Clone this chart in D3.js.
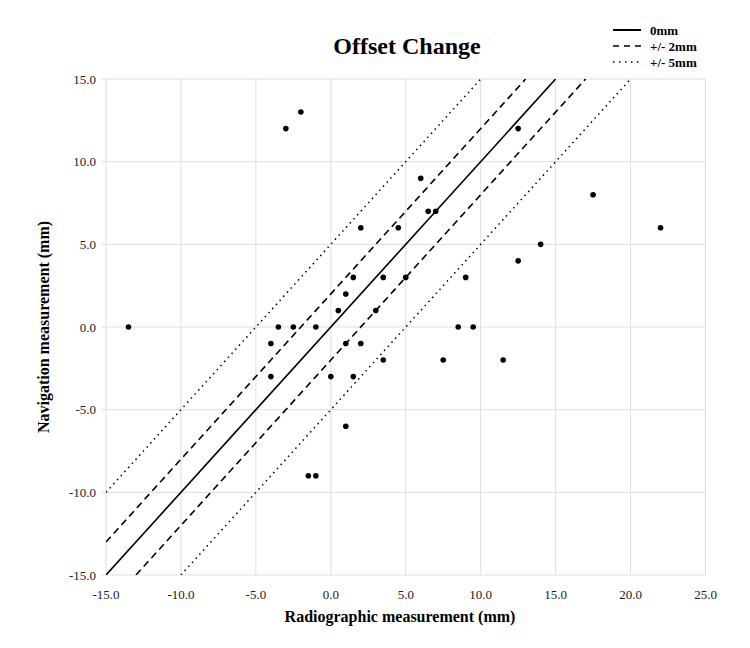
<!DOCTYPE html>
<html>
<head>
<meta charset="utf-8">
<script src="https://cdn.jsdelivr.net/npm/d3@7"></script>
<style>
  html, body { margin: 0; padding: 0; background: #fff; }
  svg { display: block; font-family: "Liberation Serif", "Times New Roman", serif; }
</style>
</head>
<body>
<svg id="chart" width="750" height="648"></svg>
<script>
// ---- data ----
const radiographic = [-3, -2, -13.5, 2, 4.5, 1.5, 3.5, 5, 1, 0.5, 3, -3.5, -2.5, -1,
  12.5, 6, 6.5, 7, 17.5, 22, 14, 12.5, 9, 8.5, 9.5, -4, 1, 2, 3.5, -4, 0, 1.5, 1,
  -1.5, -1, 7.5, 11.5];
const navigation = [12, 13, 0, 6, 6, 3, 3, 3, 2, 1, 1, 0, 0, 0,
  12, 9, 7, 7, 8, 6, 5, 4, 3, 0, 0, -1, -1, -1, -2, -3, -3, -3, -6,
  -9, -9, -2, -2];
const xTicks = [-15, -10, -5, 0, 5, 10, 15, 20, 25];
const yTicks = [-15, -10, -5, 0, 5, 10, 15];
const refLines = [
  { name: "0mm", offset: 0, style: "solid" },
  { name: "+/- 2mm", offset: 2, style: "dashed" },
  { name: "+/- 2mm", offset: -2, style: "dashed" },
  { name: "+/- 5mm", offset: 5, style: "dotted" },
  { name: "+/- 5mm", offset: -5, style: "dotted" }
];
const legendItems = [
  { name: "0mm", style: "solid" },
  { name: "+/- 2mm", style: "dashed" },
  { name: "+/- 5mm", style: "dotted" }
];
const title = "Offset Change";
const xTitle = "Radiographic measurement (mm)";
const yTitle = "Navigation measurement (mm)";

// ---- layout ----
const svg = d3.select("#chart");
const plot = { left: 106, right: 705.5, top: 79, bottom: 575 };
const x = d3.scaleLinear().domain([-15, 25]).range([plot.left, plot.right]);
const y = d3.scaleLinear().domain([-15, 15]).range([plot.bottom, plot.top]);
const dashes = { solid: null, dashed: "7,4.5", dotted: "1.5,4" };
const widths = { solid: 1.6, dashed: 1.6, dotted: 1.5 };

// gridlines
svg.append("g").selectAll("line.vx").data(xTicks).join("line")
  .attr("x1", d => x(d)).attr("x2", d => x(d))
  .attr("y1", plot.top).attr("y2", plot.bottom)
  .attr("stroke", "#dedede").attr("stroke-width", 1);
svg.append("g").selectAll("line.hy").data(yTicks).join("line")
  .attr("x1", plot.left - 5).attr("x2", plot.right)
  .attr("y1", d => y(d)).attr("y2", d => y(d))
  .attr("stroke", "#dedede").attr("stroke-width", 1);

// tick labels
svg.append("g").selectAll("text").data(xTicks).join("text")
  .attr("x", d => x(d)).attr("y", 599)
  .attr("text-anchor", "middle").attr("font-size", 13).attr("fill", "#222")
  .text(d => d.toFixed(1));
svg.append("g").selectAll("text").data(yTicks).join("text")
  .attr("x", 96).attr("y", d => y(d) + 4.5)
  .attr("text-anchor", "end").attr("font-size", 13).attr("fill", "#222")
  .text(d => d.toFixed(1));

// reference lines y = x + offset, clipped to plot domain
svg.append("defs").append("clipPath").attr("id", "clip")
  .append("rect").attr("x", plot.left).attr("y", plot.top)
  .attr("width", plot.right - plot.left).attr("height", plot.bottom - plot.top);
const lineG = svg.append("g").attr("clip-path", "url(#clip)");
refLines.forEach(r => {
  const x0 = Math.max(-15, -15 - r.offset);
  const x1 = Math.min(25, 15 - r.offset);
  lineG.append("line")
    .attr("x1", x(x0)).attr("y1", y(x0 + r.offset))
    .attr("x2", x(x1)).attr("y2", y(x1 + r.offset))
    .attr("stroke", "#000").attr("stroke-width", widths[r.style])
    .attr("stroke-dasharray", dashes[r.style]);
});

// points
svg.append("g").selectAll("circle").data(radiographic).join("circle")
  .attr("cx", d => x(d)).attr("cy", (d, i) => y(navigation[i]))
  .attr("r", 2.8).attr("fill", "#000");

// title
svg.append("text").attr("x", 407).attr("y", 54).attr("text-anchor", "middle")
  .attr("font-size", 24).attr("font-weight", "bold").text(title);

// axis titles
svg.append("text").attr("x", 400).attr("y", 622).attr("text-anchor", "middle")
  .attr("font-size", 16).attr("font-weight", "bold").text(xTitle);
svg.append("text").attr("transform", "translate(49,327) rotate(-90)")
  .attr("text-anchor", "middle")
  .attr("font-size", 16).attr("font-weight", "bold").text(yTitle);

// legend
const lg = svg.append("g");
legendItems.forEach((d, i) => {
  const yy = 30 + i * 16;
  lg.append("line").attr("x1", 613).attr("x2", 641).attr("y1", yy).attr("y2", yy)
    .attr("stroke", "#000").attr("stroke-width", d.style === "solid" ? 2 : 1.6)
    .attr("stroke-dasharray", d.style === "dashed" ? "6,5" : d.style === "dotted" ? "1.5,4.5" : null);
  lg.append("text").attr("x", 650).attr("y", yy + 4.5)
    .attr("font-size", 13).attr("font-weight", "bold").text(d.name);
});
</script>
</body>
</html>
